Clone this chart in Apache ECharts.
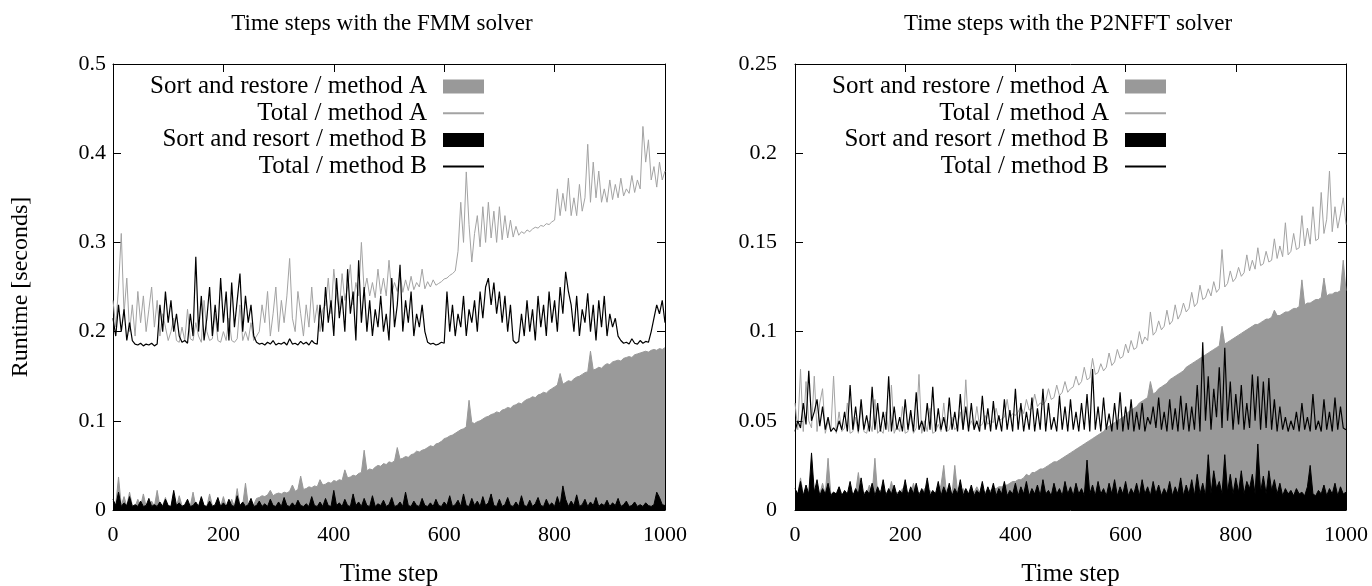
<!DOCTYPE html>
<html><head><meta charset="utf-8">
<script src="https://cdn.jsdelivr.net/npm/echarts@6/dist/echarts.min.js"></script>
<style>html,body{margin:0;padding:0;background:#fff}#c{width:1372px;height:586px}</style>
</head><body><div id="c"></div>
<script>
// samples taken every STEP time steps (t = 0, 5, ..., 1000)
const STEP = 5;
const names = ['Sort and restore / method A', 'Total / method A', 'Sort and resort / method B', 'Total / method B'];
const titles = ['Time steps with the FMM solver', 'Time steps with the P2NFFT solver'];

// ---------- FMM solver ----------
const fmmSortRestoreA = [
0.01,0.006,0.037,0.005,0.015,0.004,0.02,0.005,0.004,0.012,0.004,0.018,0.004,0.005,0.01,0.004,0.022,0.004,0.005,0.014,
0.004,0.004,0.012,0.004,0.016,0.005,0.004,0.009,0.004,0.02,0.004,0.005,0.012,0.004,0.004,0.018,0.005,0.004,0.01,0.004,
0.015,0.004,0.005,0.012,0.004,0.024,0.005,0.006,0.03,0.006,0.008,0.006,
0.013,0.014,0.016,0.015,0.017,0.022,0.016,0.018,0.019,0.018,
0.02,0.019,0.021,0.028,0.021,0.023,0.038,0.023,0.024,0.026,
0.025,0.027,0.026,0.034,0.028,0.029,0.031,0.03,0.033,0.032,
0.034,0.033,0.045,0.036,0.037,0.039,0.038,0.041,0.042,0.067,
0.044,0.046,0.045,0.048,0.05,0.049,0.052,0.051,0.054,0.053,
0.055,0.07,0.057,0.058,0.06,0.059,0.062,0.063,0.066,0.065,
0.067,0.068,0.07,0.072,0.071,0.074,0.075,0.077,0.08,0.081,
0.083,0.084,0.086,0.088,0.09,0.091,0.093,0.123,0.098,0.097,
0.099,0.1,0.102,0.104,0.105,0.107,0.108,0.11,0.109,0.112,
0.113,0.115,0.114,0.117,0.118,0.12,0.119,0.122,0.124,0.125,
0.127,0.126,0.129,0.13,0.132,0.131,0.134,0.136,0.138,0.14,
0.153,0.141,0.143,0.145,0.144,0.147,0.149,0.15,0.152,0.154,
0.155,0.178,0.157,0.158,0.16,0.159,0.162,0.164,0.163,0.166,
0.167,0.168,0.167,0.17,0.171,0.172,0.171,0.174,0.175,0.176,
0.177,0.178,0.177,0.179,0.18,0.179,0.181,0.18,0.182];
const fmmTotalA = [
0.235,0.205,0.25,0.31,0.22,0.26,0.2,0.23,0.195,0.245,0.21,0.24,0.2,0.225,0.25,0.205,0.235,0.195,0.22,0.205,
0.19,0.2,0.215,0.19,0.188,0.205,0.19,0.225,0.192,0.19,0.21,0.195,0.188,0.235,0.2,0.19,0.192,0.22,0.19,0.188,
0.2,0.19,0.215,0.19,0.188,0.192,0.23,0.19,0.2,0.19,0.21,0.19,0.195,
0.2,0.23,0.21,0.245,0.195,0.22,0.25,0.2,0.235,0.21,0.24,0.282,0.215,0.2,0.245,0.22,0.195,0.23,0.205,0.25,0.21,0.23,0.2,0.225,
0.23,0.26,0.22,0.27,0.24,0.225,0.265,0.235,0.25,0.275,0.23,0.255,0.24,0.30,0.245,0.26,
0.24,0.255,0.238,0.27,0.242,0.26,0.24,0.28,0.243,0.255,0.245,0.265,0.244,0.258,0.246,0.262,0.247,0.255,0.25,0.27,0.248,0.256,0.25,0.258,0.252,
0.254,0.256,0.259,0.26,0.263,0.265,0.268,
0.29,0.345,0.3,0.379,0.32,0.278,0.31,
0.33,0.295,0.34,0.3,0.345,0.305,0.335,0.3,0.34,0.303,0.33,0.305,0.325,0.306,0.318,0.308,0.312,0.31,0.314,0.312,
0.315,0.317,0.316,0.319,0.318,0.321,0.32,0.323,0.325,
0.36,0.33,0.355,0.335,0.372,0.33,0.35,0.33,0.365,0.335,0.35,
0.41,0.345,0.39,0.35,0.38,0.345,
0.36,0.345,0.37,0.348,0.365,0.35,0.372,0.352,0.36,0.355,0.375,0.356,0.37,0.36,
0.43,0.39,0.415,0.37,
0.385,0.362,0.39,0.37,0.38];
const fmmSortResortB = [
0.012,0.005,0.02,0.004,0.008,0.005,0.015,0.004,0.006,0.004,0.01,0.004,0.005,0.013,0.004,0.006,0.004,0.009,0.004,0.012,
0.005,0.004,0.022,0.005,0.008,0.004,0.006,0.012,0.004,0.005,0.009,0.004,0.015,0.005,0.004,0.01,0.004,0.006,0.014,0.004,
0.008,0.004,0.012,0.005,0.004,0.016,0.005,0.009,0.004,0.006,0.013,0.004,0.005,0.01,0.004,0.007,0.004,0.012,0.005,0.004,
0.009,0.004,0.014,0.005,0.004,0.008,0.004,0.011,0.005,0.004,0.007,0.004,0.015,0.005,0.004,0.009,0.004,0.013,0.005,0.004,
0.022,0.005,0.008,0.004,0.012,0.005,0.004,0.018,0.005,0.009,0.004,0.013,0.005,0.004,0.016,0.004,0.007,0.005,0.011,0.004,
0.006,0.014,0.004,0.005,0.009,0.004,0.02,0.005,0.004,0.01,0.005,0.004,0.013,0.005,0.004,0.008,0.004,0.012,0.005,0.004,
0.009,0.005,0.016,0.004,0.006,0.011,0.004,0.018,0.005,0.004,0.013,0.005,0.01,0.004,0.015,0.005,0.008,0.018,0.005,0.004,
0.012,0.004,0.006,0.014,0.005,0.004,0.009,0.004,0.016,0.005,0.004,0.011,0.004,0.007,0.014,0.005,0.004,0.012,0.005,0.008,
0.004,0.015,0.005,0.027,0.012,0.004,0.01,0.005,0.017,0.004,0.006,0.012,0.004,0.009,0.005,0.014,0.004,0.007,0.005,0.011,
0.004,0.008,0.005,0.013,0.004,0.006,0.01,0.004,0.005,0.009,0.004,0.006,0.004,0.008,0.005,0.004,0.006,0.02,0.014,0.006,0.005];
const fmmTotalB = [
0.215,0.195,0.23,0.2,0.225,0.19,0.21,
0.19,0.186,0.185,0.187,0.184,0.186,0.185,0.187,0.184,0.186,
0.23,0.2,0.245,0.21,0.235,0.2,0.22,
0.195,0.188,0.19,0.187,
0.22,0.195,0.284,0.2,0.24,0.19,0.215,0.25,0.195,0.23,0.2,0.26,0.21,0.245,0.19,0.255,0.205,0.235,0.265,0.2,0.24,0.21,0.23,0.195,
0.188,0.186,0.187,0.185,0.188,0.186,0.19,0.185,0.187,0.186,0.188,0.185,0.192,0.186,0.187,0.185,0.189,0.186,0.188,0.185,0.19,0.187,0.186,
0.23,0.2,0.25,0.21,0.235,0.195,0.26,0.215,0.24,0.2,0.27,0.22,0.245,0.19,0.28,0.21,0.25,0.2,0.235,0.195,0.225,0.205,0.24,0.2,0.22,0.19,0.26,0.205,0.23,0.275,0.2,0.235,0.21,0.245,0.195,0.22,0.205,0.23,0.2,
0.188,0.186,0.187,0.185,0.186,0.188,0.187,
0.245,0.2,0.23,0.195,0.22,0.205,0.24,0.195,0.225,0.21,0.235,0.2,0.245,0.215,0.25,0.26,0.23,0.255,0.22,0.245,0.21,0.24,0.2,0.23,
0.19,0.187,0.189,
0.22,0.195,0.235,0.2,0.225,0.19,0.24,0.205,0.23,0.195,0.245,0.21,0.235,0.2,0.25,0.22,0.267,0.245,
0.23,0.2,0.24,0.195,0.225,0.21,0.243,0.2,0.23,0.19,0.235,0.205,0.24,0.195,0.22,0.205,0.215,0.195,
0.19,0.187,0.188,0.186,0.192,0.187,0.186,0.19,0.187,0.189,0.188,
0.2,0.215,0.23,0.22,0.235,0.21];

// ---------- P2NFFT solver ----------
const p2nSortRestoreA = [
0.01,0.009,0.018,0.009,0.01,0.009,0.012,0.009,0.01,0.009,0.015,0.009,0.029,0.009,0.01,0.009,0.013,0.009,0.01,0.009,
0.011,0.009,0.01,0.021,0.009,0.01,0.009,0.014,0.009,0.029,0.009,0.011,0.009,0.01,0.009,0.016,0.009,0.01,0.009,0.012,
0.009,0.01,0.009,0.015,0.009,0.01,0.009,0.012,0.009,0.011,0.009,0.01,0.009,0.014,0.025,0.009,0.01,0.009,0.025,0.01,
0.009,0.012,0.01,0.009,0.011,0.01,0.013,0.01,0.011,0.01,
0.011,0.011,0.012,0.012,0.013,0.013,0.014,0.014,0.015,0.016,
0.016,0.017,0.017,0.018,0.02,0.019,0.021,0.021,0.022,0.023,
0.023,0.024,0.025,0.026,0.027,0.027,0.028,0.029,0.03,0.031,
0.032,0.033,0.034,0.035,0.036,0.037,0.038,0.039,0.04,0.041,
0.042,0.043,0.044,0.046,0.047,0.048,0.049,0.05,0.051,0.052,
0.053,0.055,0.056,0.057,0.058,0.06,0.061,0.062,0.063,0.072,
0.065,0.066,0.068,0.069,0.07,0.071,0.073,0.074,0.075,0.076,
0.077,0.078,0.08,0.081,0.082,0.083,0.084,0.085,0.086,0.087,
0.088,0.089,0.09,0.091,0.092,0.103,0.093,0.094,0.095,0.096,
0.097,0.098,0.099,0.1,0.101,0.102,0.103,0.104,0.104,0.105,
0.106,0.107,0.107,0.108,0.112,0.109,0.109,0.11,0.111,0.111,
0.112,0.113,0.113,0.114,0.129,0.115,0.116,0.116,0.117,0.118,
0.118,0.119,0.13,0.12,0.121,0.121,0.122,0.122,0.123,0.14,0.123];
const p2nTotalA = [
0.06,0.045,0.079,0.044,0.072,0.05,0.046,0.075,0.044,0.06,0.068,
0.043,0.05,0.044,0.075,0.043,0.055,0.044,0.046,0.06,0.043,0.044,0.052,0.043,0.058,0.044,0.043,0.05,0.044,0.062,0.043,
0.045,0.043,0.055,0.044,0.07,0.043,0.047,0.044,0.058,0.043,0.044,0.053,0.043,0.046,0.076,0.043,0.05,0.044,0.057,0.043,
0.044,0.048,0.044,0.06,0.044,0.045,0.052,0.045,0.047,0.055,0.045,0.073,0.046,0.05,0.046,0.058,0.047,0.048,0.053,0.048,
0.05,0.049,0.057,0.05,0.051,0.052,0.062,0.052,0.054,0.053,
0.055,0.058,0.054,0.062,0.056,0.057,0.065,0.058,0.06,0.059,
0.061,0.068,0.062,0.063,0.07,0.064,0.066,0.072,0.066,0.068,
0.069,0.075,0.07,0.072,0.08,0.073,0.074,0.085,0.076,0.077,
0.082,0.078,0.08,0.088,0.081,0.083,0.09,0.085,0.086,0.093,
0.088,0.095,0.09,0.091,0.1,0.093,0.097,0.095,0.111,0.098,
0.1,0.106,0.101,0.103,0.112,0.104,0.106,0.115,0.107,0.11,
0.116,0.111,0.113,0.122,0.114,0.116,0.126,0.118,0.119,0.124,
0.12,0.128,0.122,0.124,0.146,0.125,0.127,0.134,0.128,0.13,
0.136,0.131,0.133,0.143,0.134,0.14,0.135,0.147,0.137,0.138,
0.145,0.139,0.14,0.152,0.141,0.148,0.142,0.161,0.143,0.145,
0.155,0.146,0.147,0.165,0.148,0.158,0.149,0.17,0.151,0.152,
0.178,0.155,0.163,0.19,0.156,0.17,0.158,0.166,0.175,0.16];
const p2nSortResortB = [
0.012,0.009,0.016,0.008,0.014,0.009,0.032,0.01,0.017,0.008,0.012,0.009,0.015,0.008,0.01,0.009,0.013,0.008,0.011,0.009,
0.016,0.008,0.012,0.009,0.018,0.008,0.011,0.009,0.015,0.008,0.013,0.009,0.017,0.008,0.012,0.009,0.014,0.008,0.011,0.009,
0.017,0.008,0.013,0.009,0.015,0.008,0.012,0.009,0.018,0.008,0.011,0.009,0.016,0.008,0.013,0.009,0.015,0.008,0.012,0.009,
0.017,0.008,0.012,0.009,0.014,0.008,0.011,0.009,0.016,0.008,0.013,0.009,0.015,0.008,0.012,0.009,0.016,0.008,0.011,0.009,
0.015,0.008,0.013,0.009,0.016,0.008,0.012,0.009,0.014,0.008,0.017,0.009,0.011,0.008,0.015,0.009,0.012,0.008,0.016,0.009,
0.013,0.008,0.015,0.009,0.012,0.008,0.028,0.009,0.014,0.008,0.016,0.009,0.012,0.008,0.015,0.009,0.017,0.008,0.013,0.009,
0.016,0.008,0.012,0.009,0.015,0.008,0.017,0.009,0.013,0.008,0.016,0.009,0.014,0.008,0.012,0.009,0.016,0.008,0.013,0.009,
0.018,0.008,0.014,0.009,0.017,0.008,0.02,0.009,0.015,0.008,0.031,0.009,0.022,0.012,0.016,0.009,0.031,0.01,0.02,0.009,
0.018,0.01,0.022,0.009,0.016,0.012,0.02,0.009,0.037,0.01,0.019,0.009,0.022,0.011,0.017,0.009,0.015,0.008,0.012,0.009,
0.011,0.008,0.012,0.009,0.01,0.008,0.013,0.025,0.009,0.008,0.011,0.009,0.014,0.008,0.012,0.009,0.015,0.008,0.013,0.009,0.01];
const p2nTotalB = [
0.044,0.05,0.046,0.06,0.048,0.078,0.05,0.055,0.062,0.047,0.058,0.045,0.052,0.044,0.046,0.044,0.05,0.045,0.055,0.044,
0.07,0.045,0.058,0.044,0.062,0.045,0.053,0.044,0.069,0.045,0.06,0.044,0.055,0.045,0.075,0.044,0.058,0.045,0.052,0.044,
0.062,0.045,0.056,0.044,0.066,0.045,0.05,0.044,0.06,0.045,0.069,0.044,0.057,0.045,0.052,0.044,0.063,0.045,0.055,0.044,
0.065,0.045,0.058,0.044,0.06,0.045,0.05,0.044,0.064,0.045,0.057,0.044,0.061,0.045,0.053,0.044,0.062,0.045,0.056,0.044,
0.068,0.045,0.06,0.044,0.055,0.045,0.063,0.044,0.057,0.045,0.068,0.044,0.06,0.045,0.052,0.044,0.064,0.045,0.058,0.044,
0.062,0.045,0.055,0.044,0.06,0.045,0.065,0.044,0.079,0.045,0.058,0.044,0.063,0.045,0.054,0.044,0.06,0.045,0.066,0.044,
0.058,0.045,0.062,0.044,0.055,0.045,0.06,0.044,0.052,0.048,0.058,0.046,0.063,0.045,0.055,0.044,0.062,0.045,0.057,0.044,
0.064,0.045,0.06,0.044,0.058,0.045,0.07,0.044,0.094,0.05,0.075,0.045,0.068,0.052,0.08,0.046,0.091,0.05,0.072,0.045,
0.065,0.048,0.07,0.045,0.06,0.046,0.076,0.05,0.075,0.045,0.072,0.046,0.074,0.045,0.062,0.044,0.058,0.045,0.052,0.044,
0.05,0.045,0.055,0.044,0.06,0.045,0.052,0.044,0.065,0.045,0.05,0.044,0.062,0.045,0.055,0.044,0.063,0.045,0.058,0.046,0.045];

const panels = [
  {sa: fmmSortRestoreA, ta: fmmTotalA, sb: fmmSortResortB, tb: fmmTotalB, yMax: 0.5, yInt: 0.1},
  {sa: p2nSortRestoreA, ta: p2nTotalA, sb: p2nSortResortB, tb: p2nTotalB, yMax: 0.25, yInt: 0.05}
];

const FONT = 'Liberation Serif';
const FS = 22;
const GRAY_FILL = '#999999';
const GRAY_LINE = '#a3a3a3';
function pts(arr){ return arr.map((v, i) => [i * STEP, v]); }

const gridPos = [
  {left: 113, width: 552, top: 64, height: 446},
  {left: 795, width: 551, top: 64, height: 446}
];
const legendRight = [882, 200];
const titleCenter = [377, 1063];
const yLabelMargin = [7, 18];

const option = {
  animation: false,
  backgroundColor: '#ffffff',
  textStyle: {fontFamily: FONT, color: '#000'},
  title: titles.map((t, k) => ({
    text: t, left: titleCenter[k], top: 7, textAlign: 'center',
    textStyle: {fontFamily: FONT, fontSize: 23, fontWeight: 'normal', color: '#000'}
  })),
  grid: gridPos.map(g => Object.assign({containLabel: false, outerBoundsMode: 'none'}, g)),
  legend: [0, 1].map(k => ({
    orient: 'vertical', align: 'right', right: legendRight[k], top: 69,
    itemWidth: 41, itemHeight: 14, itemGap: 1.7,
    selectedMode: false,
    textStyle: {fontFamily: FONT, fontSize: 25, color: '#000', padding: [0, 11, 0, 0], lineHeight: 22},
    data: [
      {name: names[0], icon: 'rect', itemStyle: {color: GRAY_FILL}},
      {name: names[1], itemStyle: {opacity: 0}},
      {name: names[2], icon: 'rect', itemStyle: {color: '#000'}},
      {name: names[3], itemStyle: {opacity: 0}}
    ]
  })),
  xAxis: [],
  yAxis: [],
  series: []
};

const tickStyle = {show: true, inside: true, length: 8, lineStyle: {color: '#000', width: 1}};
const lineStyleAx = {show: true, onZero: false, lineStyle: {color: '#000', width: 1}};

panels.forEach((p, k) => {
  option.xAxis.push({
    type: 'value', gridIndex: k, min: 0, max: 1000, interval: 200, position: 'bottom',
    axisLine: lineStyleAx, axisTick: tickStyle, splitLine: {show: false},
    axisLabel: {fontFamily: FONT, fontSize: FS, color: '#000', margin: 14, formatter: v => String(v)},
    name: 'Time step', nameLocation: 'middle', nameGap: 52,
    nameTextStyle: {fontFamily: FONT, fontSize: 25, color: '#000'}
  });
  option.xAxis.push({
    type: 'value', gridIndex: k, min: 0, max: 1000, interval: 200, position: 'top',
    axisLine: lineStyleAx, axisTick: tickStyle, splitLine: {show: false}, axisLabel: {show: false}
  });
  const yl = {
    type: 'value', gridIndex: k, min: 0, max: p.yMax, interval: p.yInt, position: 'left',
    axisLine: lineStyleAx, axisTick: tickStyle, splitLine: {show: false},
    axisLabel: {fontFamily: FONT, fontSize: FS, color: '#000', margin: yLabelMargin[k]}
  };
  if (k === 0) {
    yl.name = 'Runtime [seconds]';
    yl.nameLocation = 'middle';
    yl.nameGap = 80;
    yl.nameRotate = 90;
    yl.nameTextStyle = {fontFamily: FONT, fontSize: 24, color: '#000'};
  }
  option.yAxis.push(yl);
  option.yAxis.push({
    type: 'value', gridIndex: k, min: 0, max: p.yMax, interval: p.yInt, position: 'right',
    axisLine: lineStyleAx, axisTick: tickStyle, splitLine: {show: false}, axisLabel: {show: false}
  });
  const xi = k * 2, yi = k * 2;
  option.series.push(
    {name: names[0], type: 'line', xAxisIndex: xi, yAxisIndex: yi, data: pts(p.sa), symbol: 'none',
      lineStyle: {color: GRAY_FILL, width: 1}, itemStyle: {color: GRAY_FILL},
      areaStyle: {color: GRAY_FILL, opacity: 1}, z: 1},
    {name: names[1], type: 'line', xAxisIndex: xi, yAxisIndex: yi, data: pts(p.ta), symbol: 'none',
      lineStyle: {color: GRAY_LINE, width: 1}, itemStyle: {color: GRAY_LINE}, z: 2},
    {name: names[2], type: 'line', xAxisIndex: xi, yAxisIndex: yi, data: pts(p.sb), symbol: 'none',
      lineStyle: {color: '#000', width: 1}, itemStyle: {color: '#000'},
      areaStyle: {color: '#000', opacity: 1}, z: 3},
    {name: names[3], type: 'line', xAxisIndex: xi, yAxisIndex: yi, data: pts(p.tb), symbol: 'none',
      lineStyle: {color: '#000', width: 1.2}, itemStyle: {color: '#000'}, z: 4}
  );
});

const chart = echarts.init(document.getElementById('c'), null, {renderer: 'canvas'});
chart.setOption(option);
</script>
</body></html>
